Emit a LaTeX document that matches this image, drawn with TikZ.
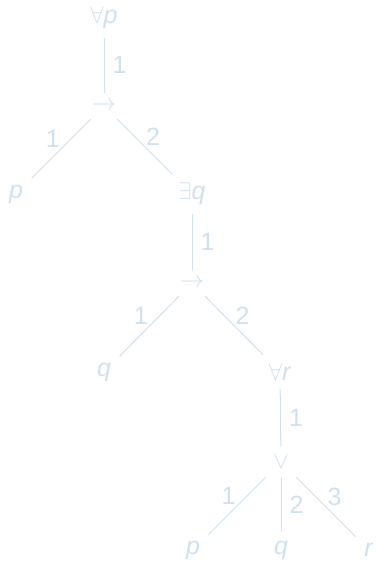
\documentclass[tikz,border=0pt]{standalone}
\usepackage{fontspec}
\setmainfont{Liberation Sans}
\definecolor{treecol}{RGB}{208,225,238}
\begin{document}
\begin{tikzpicture}[x=0.5pt,y=-0.5pt,
  every node/.style={text=treecol, font=\fontsize{12.5}{15}\selectfont},
  tn/.style={outer sep=1pt},
  lab/.style={inner sep=2pt},
  dlab/.style={inner sep=0.5pt},
  edge/.style={draw=treecol, line width=0.5pt}]
\useasboundingbox (0,0) rectangle (377,562);
\node[tn] (fa) at (104,18) {$\forall$\textit{p}};
\node[tn] (im1) at (104,106) {$\rightarrow$};
\node[tn] (p1) at (16,194) {\textit{p}};
\node[tn] (ex) at (192,194) {$\exists$\textit{q}};
\node[tn] (im2) at (192,283) {$\rightarrow$};
\node[tn] (q1) at (104,372) {\textit{q}};
\node[tn] (fr) at (280,372) {$\forall$\textit{r}};
\node[tn] (or) at (281,462) {$\vee$};
\node[tn] (p2) at (193,550) {\textit{p}};
\node[tn] (q2) at (281,550) {\textit{q}};
\node[tn] (r2) at (369,550) {\textit{r}};
\draw[edge] (fa) -- node[lab,right=2pt] {1} (im1);
\draw[edge] (im1) -- node[dlab,above left] {1} (p1);
\draw[edge] (im1) -- node[dlab,above right] {2} (ex);
\draw[edge] (ex) -- node[lab,right=2pt] {1} (im2);
\draw[edge] (im2) -- node[dlab,above left] {1} (q1);
\draw[edge] (im2) -- node[dlab,above right] {2} (fr);
\draw[edge] (fr) -- node[lab,right=2pt] {1} (or);
\draw[edge] (or) -- node[dlab,above left] {1} (p2);
\draw[edge] (or) -- node[lab,right=2pt] {2} (q2);
\draw[edge] (or) -- node[dlab,above right] {3} (r2);
\end{tikzpicture}
\end{document}
